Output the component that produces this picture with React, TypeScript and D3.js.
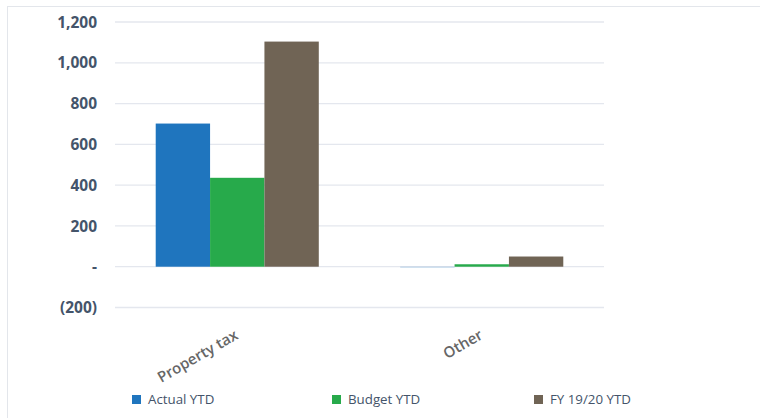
import React from "react";
import * as d3 from "d3";

const categories = ["Property tax", "Other"];
const seriesNames = ["Actual YTD", "Budget YTD", "FY 19/20 YTD"];
const actualYTD = [702, -3];
const budgetYTD = [436, 12];
const fy1920YTD = [1104, 50];
const yTicks = [-200, 0, 200, 400, 600, 800, 1000, 1200];
const colors = ["#1F75BE", "#27AA4B", "#706455"];

const W = 760;
const H = 418;
const left = 115;
const right = 604;
const yTop = 22;
const yBottom = 307.5;

function fmt(v: number) {
  if (v === 0) return "-";
  const s = d3.format(",")(Math.abs(v));
  return v < 0 ? `(${s})` : s;
}

export default function App() {
  const series = [actualYTD, budgetYTD, fy1920YTD];
  const x0 = d3.scaleBand<string>().domain(categories).range([left, right]).paddingInner(0.333).paddingOuter(0.1665);
  const x1 = d3.scaleBand<string>().domain(seriesNames).range([0, x0.bandwidth()]);
  const y = d3.scaleLinear().domain([-200, 1200]).range([yBottom, yTop]);
  const font = "'Open Sans', sans-serif";
  const legendX = [132, 332, 534];

  return (
    <svg width={W} height={H} style={{ position: "absolute", left: 0, top: 0, background: "#fff" }}>
      <rect x={7.5} y={6.5} width={W} height={H} fill="#fff" stroke="#E3E6EB" strokeWidth={1} />
      {yTicks.map((t) => (
        <g key={t}>
          <line x1={left} x2={right} y1={y(t)} y2={y(t)} stroke="#E4E7EE" strokeWidth={1.3} />
          <text
            x={97}
            y={y(t)}
            dy="0.36em"
            textAnchor="end"
            fontFamily={font}
            fontWeight={700}
            fontSize={15.5}
            fill="#44546A"
          >
            {fmt(t)}
          </text>
        </g>
      ))}
      {categories.map((c, ci) => (
        <g key={c} transform={`translate(${x0(c)},0)`}>
          {series.map((s, si) => {
            const v = s[ci];
            const y0 = y(0);
            const yv = y(v);
            return (
              <rect
                key={si}
                x={x1(seriesNames[si])}
                y={Math.min(y0, yv)}
                width={x1.bandwidth()}
                height={Math.max(Math.abs(yv - y0), 0.8)}
                fill={colors[si]}
                fillOpacity={v < 0 ? 0.35 : 1}
              />
            );
          })}
        </g>
      ))}
      {categories.map((c) => {
        const cx = (x0(c) as number) + x0.bandwidth() / 2;
        return (
          <text
            key={c}
            transform={`translate(${cx + 2},${338}) rotate(-30)`}
            textAnchor="end"
            fontFamily={font}
            fontWeight={600}
            fontSize={15}
            fill="#666666"
          >
            {c}
          </text>
        );
      })}
      {seriesNames.map((n, i) => (
        <g key={n} transform={`translate(${legendX[i]},${395})`}>
          <rect x={0} y={0} width={9} height={9} fill={colors[i]} />
          <text x={16} y={4.5} dy="0.36em" fontFamily={font} fontSize={13.3} fill="#44546A">
            {n}
          </text>
        </g>
      ))}
    </svg>
  );
}
